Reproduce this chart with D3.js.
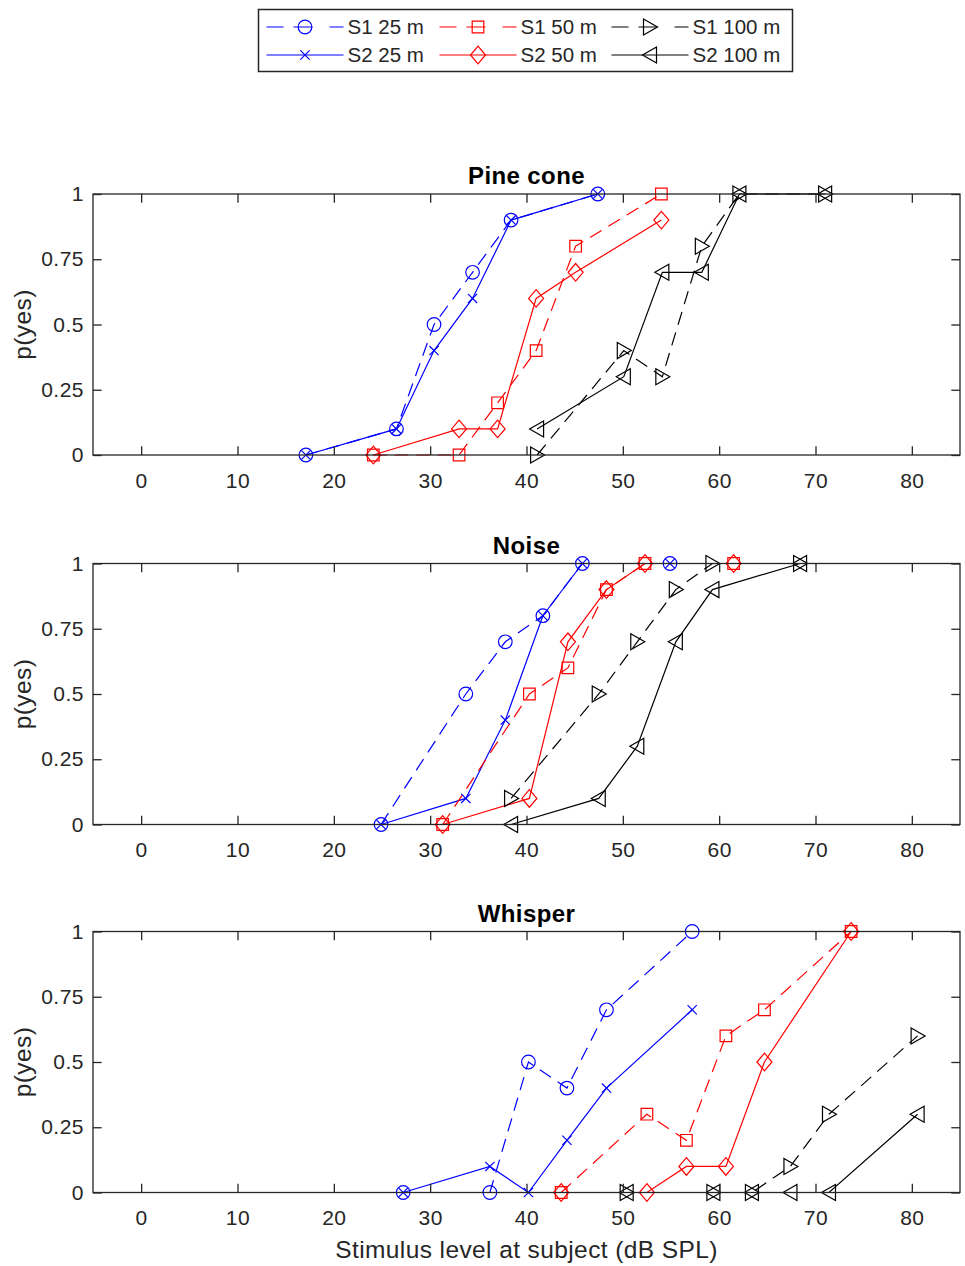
<!DOCTYPE html>
<html>
<head>
<meta charset="utf-8">
<script src="https://cdn.jsdelivr.net/npm/d3@7"></script>
<style>
  html, body { margin: 0; padding: 0; background: #fff; }
  svg { display: block; font-family: "Liberation Sans", Arial, Helvetica, sans-serif; }
</style>
</head>
<body>
<svg id="chart" width="965" height="1266"></svg>
<script>
// ---------------- DATA ----------------
const panelTitles = ["Pine cone", "Noise", "Whisper"];
const seriesNames = ["S1 25 m", "S2 25 m", "S1 50 m", "S2 50 m", "S1 100 m", "S2 100 m"];
const xTickValues = [0, 10, 20, 30, 40, 50, 60, 70, 80];
const yTickValues = [0, 0.25, 0.5, 0.75, 1];
const yTickLabels = ["0", "0.25", "0.5", "0.75", "1"];
const xLabel = "Stimulus level at subject (dB SPL)";
const yLabel = "p(yes)";

// Pine cone: [level dB, p(yes)]
const pineS1_25  = [[17.1,0],[26.5,0.1],[30.4,0.5],[34.4,0.7],[38.4,0.9],[47.4,1]];
const pineS2_25  = [[17.1,0],[26.5,0.1],[30.4,0.4],[34.4,0.6],[38.4,0.9],[47.4,1]];
const pineS1_50  = [[24.1,0],[33.0,0],[37.0,0.2],[41.0,0.4],[45.1,0.8],[54.0,1]];
const pineS2_50  = [[24.1,0],[33.0,0.1],[37.0,0.1],[41.0,0.6],[45.1,0.7],[54.0,0.9]];
const pineS1_100 = [[41.1,0],[50.1,0.4],[54.1,0.3],[58.2,0.8],[62.1,1],[71.0,1]];
const pineS2_100 = [[41.1,0.1],[50.1,0.3],[54.1,0.7],[58.2,0.7],[62.1,1],[71.0,1]];

// Noise
const noiseS1_25  = [[24.9,0],[33.7,0.5],[37.8,0.7],[41.7,0.8],[45.8,1],[54.9,1]];
const noiseS2_25  = [[24.9,0],[33.7,0.1],[37.8,0.4],[41.7,0.8],[45.8,1],[54.9,1]];
const noiseS1_50  = [[31.3,0],[40.3,0.5],[44.3,0.6],[48.3,0.9],[52.3,1],[61.5,1]];
const noiseS2_50  = [[31.3,0],[40.3,0.1],[44.3,0.7],[48.3,0.9],[52.3,1],[61.5,1]];
const noiseS1_100 = [[38.4,0.1],[47.5,0.5],[51.5,0.7],[55.5,0.9],[59.3,1],[68.4,1]];
const noiseS2_100 = [[38.4,0],[47.5,0.1],[51.5,0.3],[55.5,0.7],[59.3,0.9],[68.4,1]];

// Whisper
const whisperS1_25  = [[27.2,0],[36.2,0],[40.2,0.5],[44.2,0.4],[48.3,0.7],[57.2,1]];
const whisperS2_25  = [[27.2,0],[36.2,0.1],[40.2,0],[44.2,0.2],[48.3,0.4],[57.2,0.7]];
const whisperS1_50  = [[43.6,0],[52.5,0.3],[56.6,0.2],[60.7,0.6],[64.7,0.7],[73.7,1]];
const whisperS2_50  = [[43.6,0],[52.5,0],[56.6,0.1],[60.7,0.1],[64.7,0.5],[73.7,1]];
const whisperS1_100 = [[50.4,0],[59.4,0],[63.4,0],[67.4,0.1],[71.4,0.3],[80.6,0.6]];
const whisperS2_100 = [[50.4,0],[59.4,0],[63.4,0],[67.4,0],[71.4,0],[80.6,0.3]];

const panelData = [
  [pineS1_25, pineS2_25, pineS1_50, pineS2_50, pineS1_100, pineS2_100],
  [noiseS1_25, noiseS2_25, noiseS1_50, noiseS2_50, noiseS1_100, noiseS2_100],
  [whisperS1_25, whisperS2_25, whisperS1_50, whisperS2_50, whisperS1_100, whisperS2_100]
];

// ---------------- STYLE ----------------
const seriesColors  = ["#0000ff", "#0000ff", "#ff0000", "#ff0000", "#000000", "#000000"];
const seriesDashed  = [true, false, true, false, true, false];
const seriesMarkers = ["circle", "x", "square", "diamond", "triRight", "triLeft"];
const axisColor = "#262626";

const W = 965, H = 1266;
const plotLeft = 93, plotRight = 960;
const panelTops = [194, 563.5, 931.5];
const panelHeight = 261;
const tickLen = 8.7;

const svg = d3.select("#chart");
svg.append("rect").attr("width", W).attr("height", H).attr("fill", "#fff");

const x = d3.scaleLinear().domain([-5, 85]).range([plotLeft, plotRight]);

function markerPath(type) {
  switch (type) {
    case "circle": { const r = 6.8; return `M${-r},0A${r},${r} 0 1,0 ${r},0A${r},${r} 0 1,0 ${-r},0Z`; }
    case "x": { const a = 4.6; return `M${-a},${-a}L${a},${a}M${-a},${a}L${a},${-a}`; }
    case "square": { const a = 5.8; return `M${-a},${-a}H${a}V${a}H${-a}Z`; }
    case "diamond": { const w = 7.5, h = 8.8; return `M0,${-h}L${w},0L0,${h}L${-w},0Z`; }
    case "triRight": return "M-6.5,-8L7.5,0L-6.5,8Z";
    case "triLeft": return "M6.5,-8L-7.5,0L6.5,8Z";
  }
}

const dashPattern = "13.5,8";

panelData.forEach((seriesList, pi) => {
  const top = panelTops[pi];
  const y = d3.scaleLinear().domain([0, 1]).range([top + panelHeight, top]);
  const g = svg.append("g");

  // series
  seriesList.forEach((pts, si) => {
    const line = d3.line().x(d => x(d[0])).y(d => y(d[1]));
    g.append("path")
      .attr("d", line(pts))
      .attr("fill", "none")
      .attr("stroke", seriesColors[si])
      .attr("stroke-width", 1.2)
      .attr("stroke-dasharray", seriesDashed[si] ? dashPattern : null);
    g.selectAll(null).data(pts).enter().append("path")
      .attr("transform", d => `translate(${x(d[0])},${y(d[1])})`)
      .attr("d", markerPath(seriesMarkers[si]))
      .attr("fill", "none")
      .attr("stroke", seriesColors[si])
      .attr("stroke-width", 1.2);
  });

  // axes
  const bottomAxis = d3.axisBottom(x).tickValues(xTickValues).tickSize(-tickLen).tickPadding(18);
  const topAxis = d3.axisTop(x).tickValues(xTickValues).tickSize(-tickLen).tickFormat("");
  const leftAxis = d3.axisLeft(y).tickValues(yTickValues).tickSize(-tickLen).tickPadding(9)
    .tickFormat((d, i) => yTickLabels[i]);
  const rightAxis = d3.axisRight(y).tickValues(yTickValues).tickSize(-tickLen).tickFormat("");

  const ab = g.append("g").attr("transform", `translate(0,${top + panelHeight})`).call(bottomAxis);
  const at = g.append("g").attr("transform", `translate(0,${top})`).call(topAxis);
  const al = g.append("g").attr("transform", `translate(${plotLeft},0)`).call(leftAxis);
  const ar = g.append("g").attr("transform", `translate(${plotRight},0)`).call(rightAxis);
  [ab, at, al, ar].forEach(a => {
    a.select(".domain").remove();
    a.selectAll(".tick line").attr("stroke", axisColor).attr("stroke-width", 1.3);
    a.selectAll(".tick text").attr("fill", axisColor).attr("font-size", 21)
      .attr("letter-spacing", 0.5)
      .attr("font-family", "'Liberation Sans', Arial, sans-serif");
  });

  // box
  g.append("rect")
    .attr("x", plotLeft).attr("y", top)
    .attr("width", plotRight - plotLeft).attr("height", panelHeight)
    .attr("fill", "none").attr("stroke", axisColor).attr("stroke-width", 1.3);

  // title
  g.append("text")
    .attr("x", (plotLeft + plotRight) / 2).attr("y", top - 10)
    .attr("text-anchor", "middle")
    .attr("font-weight", "bold").attr("font-size", 24)
    .attr("letter-spacing", 0.4)
    .attr("fill", "#000")
    .text(panelTitles[pi]);

  // y label
  g.append("text")
    .attr("transform", `translate(31,${top + panelHeight / 2}) rotate(-90)`)
    .attr("text-anchor", "middle")
    .attr("font-size", 24.5)
    .attr("letter-spacing", 0.4)
    .attr("fill", axisColor)
    .text(yLabel);
});

// x label
svg.append("text")
  .attr("x", (plotLeft + plotRight) / 2).attr("y", 1258)
  .attr("text-anchor", "middle")
  .attr("font-size", 24.5)
  .attr("letter-spacing", 0.4)
  .attr("fill", axisColor)
  .text(xLabel);

// ---------------- LEGEND ----------------
const legend = svg.append("g");
legend.append("rect")
  .attr("x", 258.5).attr("y", 9.5).attr("width", 534).attr("height", 62)
  .attr("fill", "#fff").attr("stroke", axisColor).attr("stroke-width", 1.5);

const legendCols = [266.5, 439.5, 611.5];
const legendRows = [27, 55];
const legendLineLen = 77;
seriesNames.forEach((name, si) => {
  const col = Math.floor(si / 2), row = si % 2;
  const lx = legendCols[col], ly = legendRows[row];
  legend.append("line")
    .attr("x1", lx).attr("x2", lx + legendLineLen).attr("y1", ly).attr("y2", ly)
    .attr("stroke", seriesColors[si]).attr("stroke-width", 1.2)
    .attr("stroke-dasharray", seriesDashed[si] ? "17,10,19,17,14" : null);
  legend.append("path")
    .attr("transform", `translate(${lx + legendLineLen / 2},${ly})`)
    .attr("d", markerPath(seriesMarkers[si]))
    .attr("fill", "none").attr("stroke", seriesColors[si]).attr("stroke-width", 1.2);
  legend.append("text")
    .attr("x", lx + legendLineLen + 4).attr("y", ly)
    .attr("dy", "0.35em")
    .attr("font-size", 20.5)
    .attr("fill", axisColor)
    .text(name);
});
</script>
</body>
</html>
